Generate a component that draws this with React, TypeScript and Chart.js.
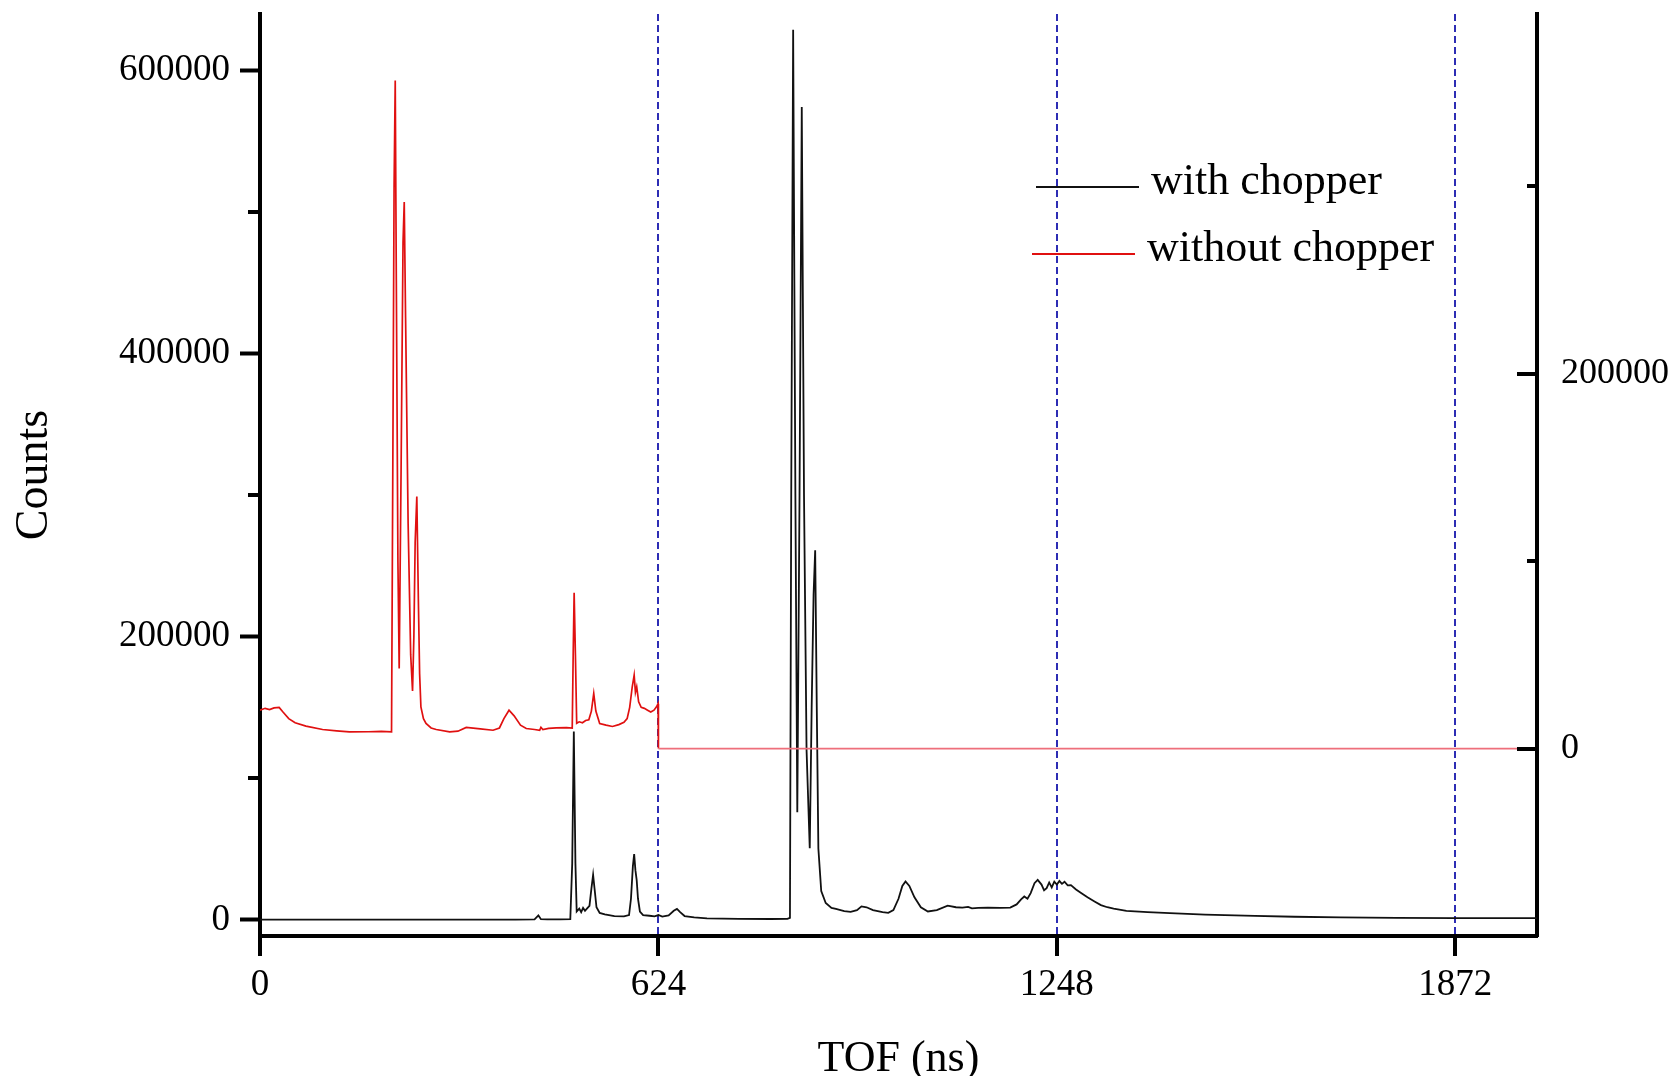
import React, { useEffect, useRef } from 'react';
import { Chart, registerables } from 'chart.js';

Chart.register(...registerables);

// ---- axis ticks ----
const xTickValues = [0, 624, 1248, 1872];
const leftTickValues = [0, 200000, 400000, 600000];
const leftMinorTickValues = [100000, 300000, 500000];
const rightTickValues = [0, 200000];
const rightMinorTickValues = [100000, 300000];

// ---- series labels ----
const seriesLabels = ['with chopper', 'without chopper'];
const axisTitles = { x: 'TOF (ns)', y: 'Counts' };

// ---- with chopper (left axis) ----
const withChopperTof = [
  0, 200, 400, 430, 436, 440, 450, 470, 486, 489, 491.5, 494, 496, 500, 503, 506, 509, 512, 516, 519,
  521.7, 524, 527, 532, 540, 555, 570, 578, 581, 584, 586, 588, 590, 592, 595, 600, 610, 618, 624, 630,
  640, 648, 653, 658, 665, 680, 700, 750, 800, 826, 830, 832, 835, 838.5, 841.5, 845, 848.5, 852, 856, 861,
  864, 867, 869.5, 872, 874.5, 879, 886, 895, 902, 915, 925, 935, 942, 950, 960, 975, 984, 992, 1000, 1006,
  1011, 1017, 1025, 1035, 1046, 1060, 1077, 1090, 1100, 1109, 1115, 1125, 1140, 1160, 1175, 1185, 1192, 1197, 1202, 1207,
  1213, 1218, 1224, 1228, 1232, 1236, 1240, 1244, 1248, 1252, 1256, 1260, 1265, 1270, 1278, 1286, 1296, 1307, 1317, 1327,
  1337, 1357, 1390, 1425, 1480, 1558, 1620, 1693, 1780, 1872, 1950, 2000,
];
const withChopperCounts = [
  300, 300, 300, 400, 3200, 600, 500, 500, 600, 40000, 133000, 40000, 6000, 8000, 5500, 8500, 6500, 8000, 10000, 22000,
  31800, 22000, 9000, 5000, 4000, 2800, 2500, 3500, 15000, 38000, 46600, 35000, 28000, 15000, 6000, 3500, 3000, 2600, 3500, 2400,
  3200, 6500, 7800, 5500, 2800, 1800, 1200, 800, 700, 800, 1500, 300000, 628400, 300000, 76000, 300000, 574000, 300000, 120000, 50700,
  150000, 230000, 261000, 150000, 50500, 20500, 12000, 8500, 7800, 6200, 5700, 7000, 9600, 9000, 7000, 5500, 5000, 7000, 15000, 24000,
  27200, 24000, 16000, 9000, 6000, 7000, 10100, 9000, 8800, 9300, 8200, 8600, 8700, 8500, 8800, 11000, 14500, 16600, 15000, 19000,
  26000, 28300, 25000, 21000, 22500, 26500, 23000, 27000, 25000, 27500, 25500, 27000, 24500, 24600, 21500, 19000, 16000, 13100, 10500, 9000,
  8000, 6500, 5600, 4800, 3800, 2900, 2300, 1800, 1500, 1300, 1300, 1300,
];

// ---- without chopper (right axis) ----
const withoutChopperTof = [
  0, 8, 15, 22, 30, 36, 45, 55, 72, 98, 120, 140, 170, 190, 206, 208, 210, 211.8, 213.5, 216,
  218, 221, 224, 225.9, 228, 232, 236, 238.9, 241, 243, 245.6, 248, 250, 252, 256, 260, 268, 276, 297, 310,
  323, 345, 365, 375, 382, 390, 398, 408, 417, 430, 438, 440, 443, 452, 464, 480, 489, 490.5, 492, 494,
  496, 500, 505, 510, 515, 519, 522.7, 526, 532, 542, 552, 562, 570, 575, 579, 583, 586, 588, 590, 593,
  597, 602, 607, 612, 617, 621, 623.5, 624, 2000,
];
const withoutChopperCounts = [
  20500, 21500, 20800, 21700, 22000, 19500, 16000, 13800, 12000, 10200, 9500, 8900, 9000, 9200, 8900, 150000, 300000, 356500, 250000, 100000,
  42700, 150000, 270000, 291700, 230000, 120000, 50000, 30800, 60000, 110000, 134500, 80000, 40000, 22300, 16000, 13400, 11000, 10200, 8900, 9300,
  11300, 10500, 9800, 11000, 16000, 20500, 17500, 12500, 10700, 10200, 9800, 11400, 10200, 10800, 11100, 11200, 11000, 50000, 83200, 50000,
  13500, 14300, 13800, 15000, 15400, 20000, 29400, 20000, 13400, 12500, 11800, 12800, 14000, 16000, 22000, 33000, 39200, 30000, 33000, 25000,
  22000, 21500, 20500, 19500, 20500, 22300, 24000, 0, 0,
];

const SERIF = '"Liberation Serif", "Times New Roman", serif';

const axisDecorPlugin = {
  id: 'axisDecor',
  afterDraw(chart: any) {
    const { ctx, chartArea } = chart;
    const yL = chart.scales.y;
    const yR = chart.scales.y1;
    ctx.save();
    ctx.strokeStyle = '#000';
    ctx.lineWidth = 4;
    ctx.lineCap = 'butt';
    const hLine = (x0: number, x1: number, v: number, scale: any) => {
      const py = Math.round(scale.getPixelForValue(v));
      ctx.beginPath();
      ctx.moveTo(x0, py);
      ctx.lineTo(x1, py);
      ctx.stroke();
    };
    leftMinorTickValues.forEach((v) => hLine(chartArea.left - 12, chartArea.left, v, yL));
    rightTickValues.forEach((v) => hLine(chartArea.right - 20, chartArea.right, v, yR));
    rightMinorTickValues.forEach((v) => hLine(chartArea.right - 10, chartArea.right, v, yR));
    ctx.restore();
  },
};

const insetLegendPlugin = {
  id: 'insetLegend',
  afterDraw(chart: any) {
    const { ctx } = chart;
    const rows = [
      { x0: 1036, x1: 1139, lineY: 187, textX: 1151, textY: 194 },
      { x0: 1032, x1: 1135, lineY: 254, textX: 1147, textY: 261 },
    ];
    ctx.save();
    ctx.font = `44px ${SERIF}`;
    ctx.textBaseline = 'alphabetic';
    ctx.textAlign = 'left';
    chart.data.datasets.forEach((ds: any, i: number) => {
      const r = rows[i];
      ctx.strokeStyle = ds.borderColor;
      ctx.lineWidth = 1.8;
      ctx.beginPath();
      ctx.moveTo(r.x0, r.lineY);
      ctx.lineTo(r.x1, r.lineY);
      ctx.stroke();
      ctx.fillStyle = '#000';
      ctx.fillText(ds.label, r.textX, r.textY);
    });
    ctx.restore();
  },
};

export default function App() {
  const canvasRef = useRef<HTMLCanvasElement | null>(null);

  useEffect(() => {
    const canvas = canvasRef.current;
    if (!canvas) return;
    const blackPts = withChopperTof.map((x, i) => ({ x, y: withChopperCounts[i] }));
    const redPts = withoutChopperTof.map((x, i) => ({ x, y: withoutChopperCounts[i] }));

    const tickFont = { family: SERIF, size: 37 };

    const chart = new Chart(canvas, {
      type: 'line',
      data: {
        datasets: [
          {
            label: seriesLabels[0],
            data: blackPts,
            yAxisID: 'y',
            borderColor: '#111111',
            borderWidth: 1.8,
            pointRadius: 0,
            tension: 0,
            order: 1,
          },
          {
            label: seriesLabels[1],
            data: redPts,
            yAxisID: 'y1',
            borderColor: '#e01010',
            borderWidth: 1.7,
            pointRadius: 0,
            tension: 0,
            order: 0,
            segment: {
              borderColor: (c: any) => (c.p0.parsed.x >= 624 ? '#ee6f7b' : undefined),
            },
          },
        ],
      } as any,
      options: {
        animation: false,
        responsive: false,
        maintainAspectRatio: false,
        events: [],
        layout: { padding: { top: 14, left: 0, right: 0, bottom: 0 } },
        plugins: {
          legend: { display: false },
          tooltip: { enabled: false },
        },
        scales: {
          x: {
            type: 'linear',
            position: 'bottom',
            min: 0,
            max: 2000,
            z: 1,
            afterBuildTicks: (s: any) => {
              s.ticks = xTickValues.map((v) => ({ value: v }));
            },
            afterFit: (s: any) => {
              s.height = 140;
              s.paddingLeft = 0;
              s.paddingRight = 0;
            },
            grid: {
              display: true,
              drawOnChartArea: true,
              drawTicks: true,
              tickLength: 20,
              tickWidth: 4,
              tickColor: '#000',
              lineWidth: 2,
              color: (c: any) => (c.tick && c.tick.value === 0 ? 'rgba(0,0,0,0)' : '#2d2db4'),
            },
            border: { display: true, color: '#000', width: 4, dash: [7, 4] },
            ticks: {
              padding: 7,
              color: '#000',
              font: tickFont,
              maxRotation: 0,
              autoSkip: false,
              callback: (v: any) => String(v),
            },
            title: {
              display: true,
              text: axisTitles.x,
              color: '#000',
              font: { family: SERIF, size: 44, lineHeight: 0.75 },
              padding: { top: 2, bottom: 0 },
            },
          },
          y: {
            type: 'linear',
            position: 'left',
            min: -11300,
            max: 639600,
            afterBuildTicks: (s: any) => {
              s.ticks = leftTickValues.map((v) => ({ value: v }));
            },
            afterFit: (s: any) => {
              s.width = 260;
              s.paddingTop = 0;
              s.paddingBottom = 0;
            },
            grid: {
              display: true,
              drawOnChartArea: false,
              drawTicks: true,
              tickLength: 20,
              tickWidth: 4,
              tickColor: '#000',
            },
            border: { display: true, color: '#000', width: 4 },
            ticks: {
              padding: 10,
              color: '#000',
              font: tickFont,
              callback: (v: any) => String(v),
            },
            title: {
              display: true,
              text: axisTitles.y,
              color: '#000',
              font: { family: SERIF, size: 46, lineHeight: 1 },
              padding: { top: 12, bottom: 0 },
            },
          },
          y1: {
            type: 'linear',
            position: 'right',
            min: -100000,
            max: 392000,
            afterBuildTicks: (s: any) => {
              s.ticks = rightTickValues.map((v) => ({ value: v }));
            },
            afterFit: (s: any) => {
              s.width = 137;
              s.paddingTop = 0;
              s.paddingBottom = 0;
            },
            grid: { display: false, drawTicks: false, drawOnChartArea: false },
            border: { display: true, color: '#000', width: 4 },
            ticks: {
              padding: 24,
              color: '#000',
              font: { family: SERIF, size: 36 },
              callback: (v: any) => String(v),
            },
          },
        },
      } as any,
      plugins: [axisDecorPlugin, insetLegendPlugin],
    });

    return () => {
      chart.destroy();
    };
  }, []);

  return (
    <div
      style={{
        position: 'fixed',
        left: 0,
        top: 0,
        width: 1674,
        height: 1076,
        background: '#fff',
        overflow: 'hidden',
      }}
    >
      <canvas ref={canvasRef} width={1674} height={1076} style={{ display: 'block', width: 1674, height: 1076 }} />
    </div>
  );
}
